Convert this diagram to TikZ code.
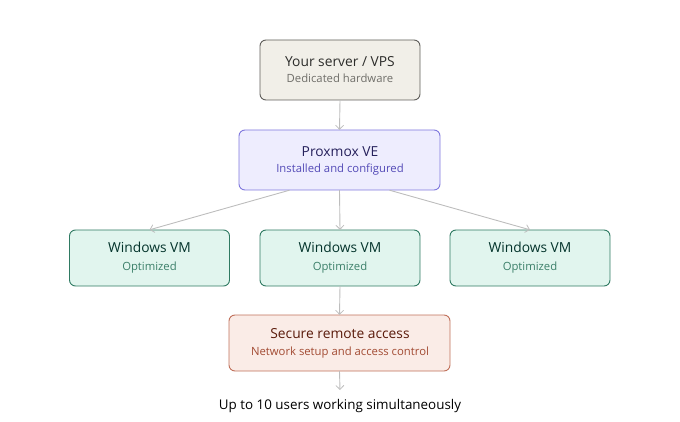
\documentclass[tikz,border=0pt]{standalone}
\usepackage{fontspec}
\setmainfont{Open Sans}
\usetikzlibrary{arrows.meta}
\definecolor{srvfill}{HTML}{F1EFE8}
\definecolor{srvdraw}{HTML}{5F5E5A}
\definecolor{srvtitle}{HTML}{2C2C2A}
\definecolor{srvsub}{HTML}{6F6E69}
\definecolor{pxfill}{HTML}{EEEDFE}
\definecolor{pxdraw}{HTML}{7F77DD}
\definecolor{pxtitle}{HTML}{26215C}
\definecolor{pxsub}{HTML}{534AB7}
\definecolor{vmfill}{HTML}{E1F5EE}
\definecolor{vmdraw}{HTML}{2F7A62}
\definecolor{vmtitle}{HTML}{04342C}
\definecolor{vmsub}{HTML}{3B7F69}
\definecolor{scfill}{HTML}{FAECE7}
\definecolor{scdraw}{HTML}{C0705A}
\definecolor{sctitle}{HTML}{5A1A0A}
\definecolor{scsub}{HTML}{A24A32}
\definecolor{arr}{HTML}{BDBDBD}
\tikzset{
  x=1pt,y=-1pt,
  box/.style={rounded corners=6pt, line width=0.9pt, inner sep=0pt},
  ttl/.style={font=\fontsize{13.8}{16}\selectfont, inner sep=0pt, anchor=base},
  sub/.style={font=\fontsize{11.3}{13}\selectfont, inner sep=0pt, anchor=base},
  conn/.style={draw=arr, line width=0.9pt, -{Straight Barb[length=4pt,width=8pt,line width=0.8pt]}},
}
\begin{document}
\begin{tikzpicture}
\useasboundingbox (0,0) rectangle (680,422);
% boxes
\draw[box, fill=srvfill, draw=srvdraw] (260,40) rectangle (420,100);
\node[box, minimum width=160pt, minimum height=60pt] (srv) at (340,70) {};
\node[ttl, text=srvtitle] at (340,67) {Your server / VPS};
\node[sub, text=srvsub] at (340,83) {Dedicated hardware};

\draw[box, fill=pxfill, draw=pxdraw] (239,130) rectangle (440,190);
\node[minimum width=201pt, minimum height=60pt, inner sep=0pt] (px) at (339.5,160) {};
\node[ttl, text=pxtitle] at (340,157) {Proxmox VE};
\node[sub, text=pxsub] at (340,173) {Installed and configured};

\foreach \n/\cx in {1/149.5, 2/340, 3/530}{
  \draw[box, fill=vmfill, draw=vmdraw] (\cx-80,230) rectangle (\cx+80,286);
  \node[minimum width=160pt, minimum height=56pt, inner sep=0pt] (vm\n) at (\cx,258) {};
  \node[ttl, text=vmtitle] at (\cx,252) {Windows VM};
  \node[sub, text=vmsub] at (\cx,270) {Optimized};
}

\draw[box, fill=scfill, draw=scdraw] (229,315) rectangle (450,371);
\node[minimum width=221pt, minimum height=56pt, inner sep=0pt] (sc) at (339.5,343) {};
\node[ttl, text=sctitle] at (340,338) {Secure remote access};
\node[sub, text=scsub] at (340,355) {Network setup and access control};

\node[font=\fontsize{13.4}{16}\selectfont, inner sep=0pt, anchor=base] (users) at (340,409) {Up to 10 users working simultaneously};
\coordinate (uend) at (340,390);

% connectors
\draw[conn] (srv.south) -- (px.north);
\draw[conn] ([xshift=-50pt]px.south) -- (vm1.north);
\draw[conn] (px.south) -- (vm2.north);
\draw[conn] ([xshift=50pt]px.south) -- (vm3.north);
\draw[conn] (vm2.south) -- (sc.north);
\draw[conn] (sc.south) -- (uend);
\end{tikzpicture}
\end{document}
